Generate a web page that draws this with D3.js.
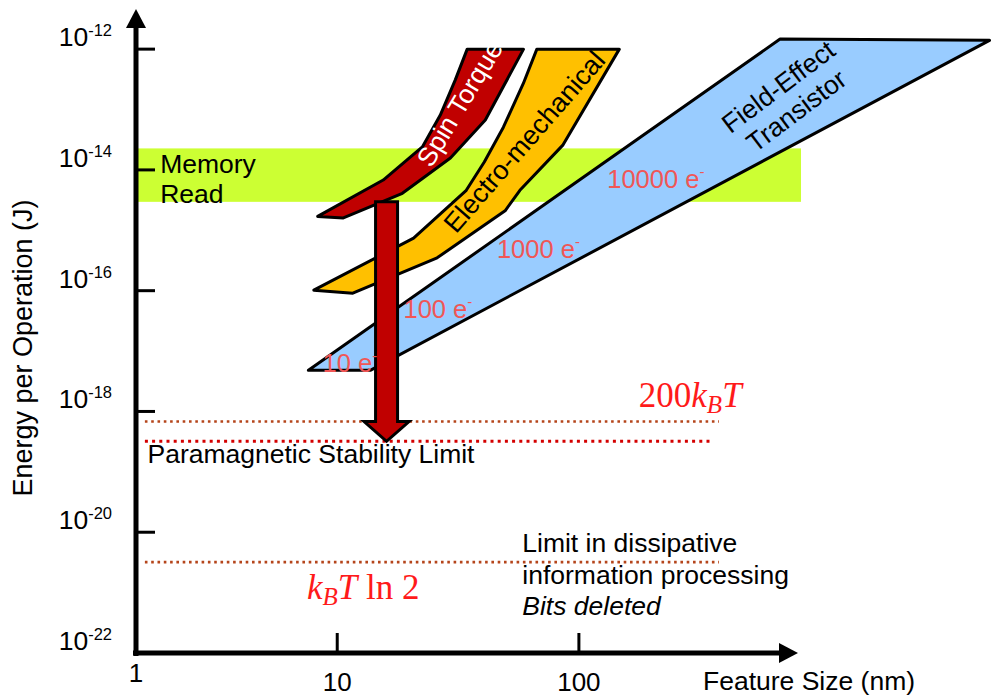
<!DOCTYPE html>
<html>
<head>
<meta charset="utf-8">
<script src="https://cdn.jsdelivr.net/npm/d3@7"></script>
<style>
body { margin: 0; background: #fff; }
svg { display: block; font-family: "Liberation Sans", Arial, sans-serif; }
</style>
</head>
<body>
<svg id="chart" width="993" height="696"></svg>
<script>
// energy per operation vs feature size, both axes log
var yTickExps = [-12, -14, -16, -18, -20, -22];
var xTickValues = [10, 100];
var xOriginLabel = "1";

// technology regions, [feature size nm, energy J]
var spinTorque = [[34.5,1e-12],[59,1e-12],[41,6.7e-14],[29.4,1.57e-14],[18.6,4.1e-15],[10.6,1.6e-15],
    [8.3,1.7e-15],[15.5,6.8e-15],[22.5,2.4e-14],[26.7,8.1e-14],[30.8,3.1e-13]];
var electroMech = [[67,1e-12],[147,1e-12],[86,2.6e-14],[57,4.6e-15],[49.5,2.1e-15],[25.9,3.5e-16],
    [11.6,9.1e-17],[8,1.02e-16],[20.7,7.4e-16],[34.2,4.6e-15],[40.6,1.35e-14],[48.7,5.1e-14],[58.9,2.7e-13]];
var fet = [[7.6,4.8e-18],[13.7,4.8e-18],[5000,1.4e-12],[680,1.47e-12]];

// memory read band
var memoryReadRange = [2.96e-15, 2.27e-14];
var memoryReadMaxSize = 830;

// horizontal limits: 200kBT, paramagnetic, kBT ln2
var limitEnergy = [6.8e-19, 3.2e-19, 3.2e-21];
var limitEnd = [380, 360, 380];
var limitStart = 1.6;

// scaling arrow: size, top, head base, tip
var arrowSize = 16;
var arrowEnergy = [2.96e-15, 6.8e-19, 3.2e-19];

// electron count labels along FET
var electronLabels = ["10 e", "100 e", "1000 e", "10000 e"];
var electronAt = [[8.7,4.5e-18],[18.8,3.5e-17],[45.8,3.5e-16],[131,5e-15]];

var svg = d3.select("#chart");
var x = d3.scaleLog().domain([1.47, 673]).range([136, 779]);
var y = d3.scaleLog().domain([1e-22, Math.pow(10, -11.65)]).range([653, 28]);
var x0 = x.range()[0], x1 = x.range()[1];
var y0 = y.range()[0], y1 = y.range()[1];

svg.append("rect").attr("width", 993).attr("height", 696).style("fill", "#fff");

// band
svg.append("rect")
    .attr("x", x0)
    .attr("y", y(memoryReadRange[1]))
    .attr("width", x(memoryReadMaxSize) - x0)
    .attr("height", y(memoryReadRange[0]) - y(memoryReadRange[1]))
    .style("fill", "#ccff33");

svg.append("text").attr("x", x(1.85)).attr("y", y(8.9e-15))
    .style("font-size", "26.5px").text("Memory");
svg.append("text").attr("x", x(1.85)).attr("y", y(8.9e-15) + 30)
    .style("font-size", "26.5px").text("Read");

// dotted limit lines
var limitStyle = [
    {color: "#b5451b", width: 2.6, dash: "2.6,3.7"},
    {color: "#d40000", width: 3, dash: "3,4.2"},
    {color: "#b5451b", width: 2.6, dash: "2.6,3.7"}
];
limitEnergy.forEach(function(e, i) {
    svg.append("line")
        .attr("x1", x(limitStart)).attr("x2", x(limitEnd[i]))
        .attr("y1", y(e)).attr("y2", y(e))
        .style("stroke", limitStyle[i].color)
        .style("stroke-width", limitStyle[i].width)
        .style("stroke-dasharray", limitStyle[i].dash);
});

// regions
var line = d3.line().x(function(d) { return x(d[0]); }).y(function(d) { return y(d[1]); });
function region(pts, fill) {
    svg.append("path")
        .attr("d", line(pts) + "Z")
        .style("fill", fill)
        .style("stroke", "#000")
        .style("stroke-width", 3)
        .style("stroke-linejoin", "round");
}
region(spinTorque, "#c00000");
region(electroMech, "#ffc000");
region(fet, "#99ccff");

// region titles
svg.append("text")
    .attr("transform", "translate(" + x(24.5) + "," + y(1.05e-14) + ") rotate(-59)")
    .style("font-size", "26.5px").style("fill", "#fff")
    .text("Spin Torque");
svg.append("text")
    .attr("transform", "translate(" + x(31) + "," + y(8.5e-16) + ") rotate(-49)")
    .style("font-size", "27px").style("fill", "#000")
    .text("Electro-mechanical");
var fetTitle = svg.append("g")
    .attr("transform", "translate(" + x(705) + "," + y(1.8e-13) + ") rotate(-37)")
    .style("font-size", "26.5px").style("text-anchor", "middle");
fetTitle.append("text").text("Field-Effect");
fetTitle.append("text").attr("y", 30).text("Transistor");

// scaling arrow
var ax = x(arrowSize), shaftW = 11, headW = 22.5;
var aTop = y(arrowEnergy[0]), aBase = y(arrowEnergy[1]), aTip = y(arrowEnergy[2]);
svg.append("path")
    .attr("d", "M" + (ax - shaftW) + "," + aTop + "L" + (ax + shaftW) + "," + aTop +
        "L" + (ax + shaftW) + "," + aBase + "L" + (ax + headW) + "," + aBase +
        "L" + ax + "," + aTip + "L" + (ax - headW) + "," + aBase +
        "L" + (ax - shaftW) + "," + aBase + "Z")
    .style("fill", "#c00000")
    .style("stroke", "#000")
    .style("stroke-width", 3);

// electron labels
electronLabels.forEach(function(t, i) {
    var lab = svg.append("text")
        .attr("x", x(electronAt[i][0])).attr("y", y(electronAt[i][1]))
        .style("font-size", "25.5px").style("fill", "#f05656");
    lab.append("tspan").text(t);
    lab.append("tspan").attr("dy", -11).style("font-size", "15px").text("-");
});

// limit labels
function mathLabel(px, py, parts) {
    var t = svg.append("text").attr("x", px).attr("y", py)
        .style("font-family", "'Liberation Serif', 'Times New Roman', serif")
        .style("font-size", "35px").style("fill", "#ff1a1a");
    parts.forEach(function(p) {
        t.append("tspan")
            .attr("dy", p.dy || 0)
            .style("font-style", p.it ? "italic" : "normal")
            .style("font-size", p.sz || null)
            .text(p.s);
    });
}
mathLabel(x(177), y(1.18e-18), [{s: "200"}, {s: "k", it: 1}, {s: "B", it: 1, sz: "25px", dy: 6}, {s: "T", it: 1, dy: -6}]);
mathLabel(x(7.5), y(7.8e-22), [{s: "k", it: 1}, {s: "B", it: 1, sz: "25px", dy: 6}, {s: "T", it: 1, dy: -6}, {s: " ln 2"}]);

svg.append("text").attr("x", x(1.64)).attr("y", y(1.4e-19))
    .style("font-size", "26.5px").text("Paramagnetic Stability Limit");

var land = ["Limit in dissipative", "information processing", "Bits deleted"];
land.forEach(function(t, i) {
    svg.append("text").attr("x", x(58.3)).attr("y", y(4.7e-21) + i * 31.5)
        .style("font-size", "26.5px")
        .style("font-style", i == 2 ? "italic" : "normal")
        .text(t);
});

// axes
svg.append("line").attr("x1", x0).attr("x2", x0).attr("y1", y0 + 3).attr("y2", y1)
    .style("stroke", "#000").style("stroke-width", 5);
svg.append("line").attr("x1", x0 - 3).attr("x2", x1).attr("y1", y0).attr("y2", y0)
    .style("stroke", "#000").style("stroke-width", 5);
svg.append("path")
    .attr("d", "M" + (x0 - 10) + "," + y1 + "L" + x0 + "," + (y1 - 19) + "L" + (x0 + 10) + "," + y1 + "Z")
    .style("fill", "#000");
svg.append("path")
    .attr("d", "M" + x1 + "," + (y0 - 10) + "L" + (x1 + 19) + "," + y0 + "L" + x1 + "," + (y0 + 10) + "Z")
    .style("fill", "#000");

yTickExps.forEach(function(e) {
    var ty = y(Math.pow(10, e));
    if (e > -22) {
        svg.append("line").attr("x1", x0).attr("x2", x0 + 19).attr("y1", ty).attr("y2", ty)
            .style("stroke", "#000").style("stroke-width", 3);
    }
    var lab = svg.append("text").attr("x", 112).attr("y", ty - 3)
        .style("font-size", "26.5px").style("text-anchor", "end");
    lab.append("tspan").text("10");
    lab.append("tspan").attr("dy", -10).style("font-size", "16.5px").text(String(e));
});

xTickValues.forEach(function(v) {
    svg.append("line").attr("x1", x(v)).attr("x2", x(v)).attr("y1", y0 - 20).attr("y2", y0)
        .style("stroke", "#000").style("stroke-width", 3);
    svg.append("text").attr("x", x(v)).attr("y", y0 + 38)
        .style("font-size", "26px").style("text-anchor", "middle").text(v);
});
svg.append("text").attr("x", x0).attr("y", y0 + 29)
    .style("font-size", "26px").style("text-anchor", "middle").text(xOriginLabel);

svg.append("text").attr("x", 703).attr("y", 690)
    .style("font-size", "26.5px").text("Feature Size (nm)");
svg.append("text")
    .attr("transform", "translate(32,348) rotate(-90)")
    .style("font-size", "27px").style("text-anchor", "middle")
    .text("Energy per Operation (J)");
</script>
</body>
</html>
